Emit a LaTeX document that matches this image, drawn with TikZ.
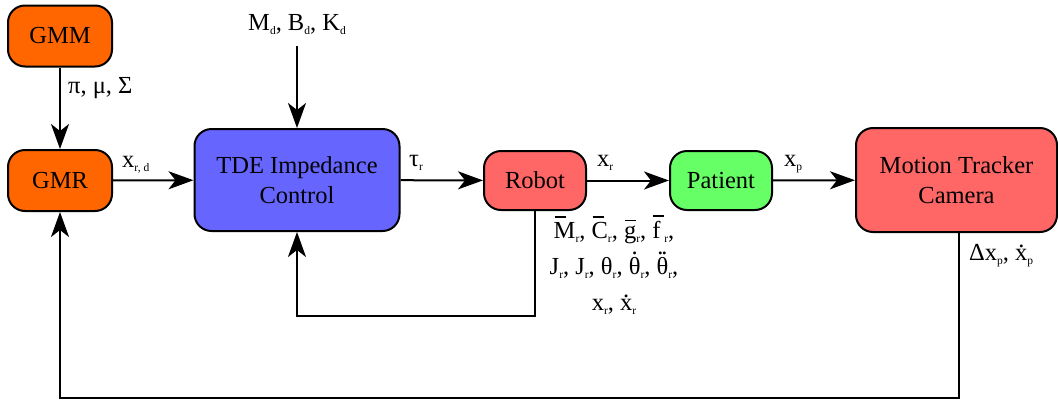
\documentclass[tikz,border=0pt]{standalone}
\usepackage{fontspec}
\setmainfont{Liberation Serif}
\usetikzlibrary{arrows.meta}

\definecolor{gmmorange}{HTML}{FF6600}
\definecolor{ctrlblue}{HTML}{6666FF}
\definecolor{robotred}{HTML}{FF6666}
\definecolor{patgreen}{HTML}{66FF66}

% small lowered subscript
\newcommand\lowsub[1]{\raisebox{-4.5pt}{\fontsize{11.5}{11.5}\selectfont #1}}
% dot(s) placed over a character: #1 = raise, #2 = mark, #3 = character
\newcommand\accover[3]{\ooalign{#3\cr\hidewidth\raisebox{#1}[0pt][0pt]{#2}\hidewidth\cr}}
\newcommand\dotx[1]{\accover{13pt}{.}{#1}}
\newcommand\dotth[1]{\accover{20pt}{.}{#1}}
\newcommand\ddotth[1]{\accover{20pt}{.\kern-2pt.}{#1}}
% short bar over a character
\newcommand\barover[1]{\setbox0\hbox{#1}\ooalign{#1\cr\kern1pt\raisebox{\dimexpr\ht0+4pt\relax}[0pt][0pt]{\rule{11pt}{1.7pt}}\hfil\cr}}

\begin{document}
\begin{tikzpicture}[x=1pt,y=-1pt,
  font=\fontsize{24.5}{30}\selectfont,
  blockbox/.style={draw=black, line width=2pt, rounded corners=17pt,
    align=center, inner sep=0pt},
  arr/.style={-{Stealth[length=25pt,width=18pt,inset=7pt]}, line width=2pt},
  lbl/.style={inner sep=0pt, anchor=base west},
  lblc/.style={inner sep=0pt, anchor=base}
]
\useasboundingbox (0,0) rectangle (1058,400);

% blocks
\node[blockbox, fill=gmmorange, minimum width=104pt, minimum height=61pt] (gmm) at (60,36) {GMM};
\node[blockbox, fill=gmmorange, minimum width=104pt, minimum height=61pt] (gmr) at (60,180.5) {GMR};
\node[blockbox, fill=ctrlblue, minimum width=205pt, minimum height=102pt] (tde) at (297,180) {TDE Impedance\\Control};
\node[blockbox, fill=robotred, minimum width=102pt, minimum height=59pt] (robot) at (535,180.5) {Robot};
\node[blockbox, fill=patgreen, minimum width=102pt, minimum height=59pt] (patient) at (721,180.5) {Patient};
\node[blockbox, fill=robotred, minimum width=201pt, minimum height=104pt] (cam) at (956.5,180) {Motion Tracker\\Camera};

% desired impedance parameters
\node[lblc] (md) at (297,30) {M\lowsub{d}, B\lowsub{d}, K\lowsub{d}};
\coordinate (mdin) at (297,46);

% signal labels
\node[lbl] (gmmout) at (68,93) {π, μ, Σ};
\node[lbl] (xrd) at (122,167) {x\lowsub{r, d}};
\node[lbl] (taur) at (409,166) {τ\lowsub{r}};
\node[lbl] (xr) at (597,166) {x\lowsub{r}};
\node[lbl] (xp) at (784,166) {x\lowsub{p}};
\node[lbl] (dxp) at (969,260) {Δx\lowsub{p}, \dotx{x}\lowsub{p}};
\node[lblc] (rl1) at (614,238) {\barover{M}\lowsub{r}, \barover{C}\lowsub{r}, \barover{g}\lowsub{r}, \barover{f}\lowsub{r},};
\node[lblc] (rl2) at (614,274) {J\lowsub{r}, J\lowsub{r}, θ\lowsub{r}, \dotth{θ}\lowsub{r}, \ddotth{θ}\lowsub{r},};
\node[lblc] (rl3) at (614,310) {x\lowsub{r}, \dotx{x}\lowsub{r}};

% forward path
\draw[arr] (gmm) -- (gmr);
\draw[arr] (mdin) -- (tde);
\draw[arr] (gmr) -- (tde);
\draw[arr] (tde) -- (robot);
\draw[arr] (robot) -- (patient);
\draw[arr] (patient) -- (cam);

% feedback paths
\draw[arr] (robot.south) -- ++(0,105) -| (tde.south);
\draw[arr] ([xshift=2.5pt]cam.south) -- ++(0,165) -| (gmr.south);
\end{tikzpicture}
\end{document}
